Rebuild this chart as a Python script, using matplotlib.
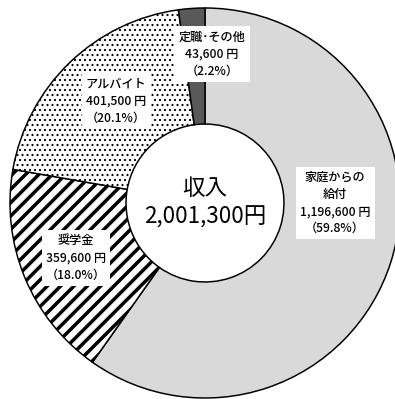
import matplotlib
matplotlib.use("Agg")
import matplotlib.pyplot as plt

plt.rcParams['font.family'] = ['Noto Sans CJK JP', 'DejaVu Sans']

categories = ["家庭からの\n給付", "奨学金", "アルバイト", "定職･その他"]
values = [1196600, 359600, 401500, 43600]
percents = ["59.8%", "18.0%", "20.1%", "2.2%"]
total_label = "収入\n2,001,300円"

colors = ["#d9d9d9", "white", "white", "#595959"]
hatches = [None, "///", "....", None]
hatch_lw = [1.0, 2.1, 0.7, 1.0]
label_pos = [(0.667, 0.0), (-0.662, -0.282), (-0.456, 0.523), (0.036, 0.764)]

DPI = 120
fig = plt.figure(figsize=(395 / DPI, 399 / DPI), dpi=DPI)
cx, cy, R = 205, 203, 195
ax = fig.add_axes([(cx - R) / 395, (399 - cy - R) / 399, 2 * R / 395, 2 * R / 399])
ax.set_xlim(-1, 1)
ax.set_ylim(-1, 1)
ax.axis('off')

wedges, _ = ax.pie(values, colors=colors, startangle=90, counterclock=False,
                   radius=1.0,
                   wedgeprops=dict(width=0.595, edgecolor='black', linewidth=0.9))
for w, h, lw in zip(wedges, hatches, hatch_lw):
    w.set_clip_on(False)
    if h:
        w.set_hatch(h)
    if hasattr(w, 'set_hatch_linewidth'):
        w.set_hatch_linewidth(lw)
    else:
        w._hatch_linewidth = lw
ax.set_xlim(-1, 1)
ax.set_ylim(-1, 1)

for cat, v, p, (x, y) in zip(categories, values, percents, label_pos):
    txt = f"{cat}\n{v:,} 円\n（{p}）"
    ax.text(x, y, txt, ha='center', va='center', fontsize=7.3, linespacing=1.4,
            color='black', fontweight='medium',
            bbox=dict(boxstyle='square,pad=0.35', facecolor='white', edgecolor='none'))

ax.text(0.0, 0.0, total_label, ha='center', va='center', fontsize=13.5,
        linespacing=1.3, color='black')

fig.savefig("out.png", dpi=DPI)
